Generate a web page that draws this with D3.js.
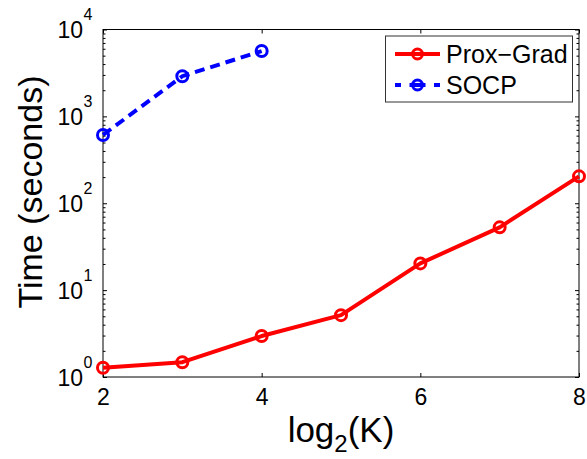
<!DOCTYPE html>
<html>
<head>
<meta charset="utf-8">
<script src="https://cdn.jsdelivr.net/npm/d3@7"></script>
<style>
  html, body { margin: 0; padding: 0; background: #fff; }
  svg { display: block; font-family: "Liberation Sans", Arial, Helvetica, sans-serif; }
</style>
</head>
<body>
<svg id="chart" width="587" height="459"></svg>
<script>
// ---- data ----
const xValues = [2, 3, 4, 5, 6, 7, 8];
const proxGrad = [1.28, 1.48, 2.96, 5.15, 20.3, 52.8, 204];
const socpX = [2, 3, 4];
const socp = [611, 2900, 5650];
const xTicks = [2, 4, 6, 8];
const yTickExps = [0, 1, 2, 3, 4];
const seriesNames = ["Prox\u2212Grad", "SOCP"];
const seriesColors = ["#ff0000", "#0000ff"];

// ---- layout ----
const svg = d3.select("#chart");
const L = 103, R = 579, T = 29.5, B = 377;

const x = d3.scaleLinear().domain([2, 8]).range([L, R]);
const y = d3.scaleLog().domain([1, 1e4]).range([B, T]);

const minorVals = [];
for (let e = 0; e < 4; e++) for (let m = 2; m <= 9; m++) minorVals.push(m * Math.pow(10, e));
const majorVals = yTickExps.map(e => Math.pow(10, e));

// axes box
svg.append("rect").attr("x", L).attr("y", T).attr("width", R - L).attr("height", B - T)
  .attr("fill", "none").attr("stroke", "#000").attr("stroke-width", 1);

// bottom axis with inward ticks
const gx = svg.append("g").attr("transform", `translate(0,${B})`)
  .call(d3.axisBottom(x).tickValues(xTicks).tickSize(-4).tickPadding(12).tickFormat(d3.format("d")));
gx.select(".domain").remove();
gx.selectAll("text").attr("font-size", 23).attr("fill", "#000").attr("font-family", "Liberation Sans, Arial, sans-serif")
  .attr("dy", "0.71em").attr("y", 12);
gx.selectAll("line").attr("stroke", "#000");
// top axis ticks
const gxt = svg.append("g").attr("transform", `translate(0,${T})`)
  .call(d3.axisTop(x).tickValues(xTicks).tickSize(-4).tickFormat(""));
gxt.select(".domain").remove();
gxt.selectAll("line").attr("stroke", "#000");

// left axis major
const gy = svg.append("g").attr("transform", `translate(${L},0)`)
  .call(d3.axisLeft(y).tickValues(majorVals).tickSize(-4).tickPadding(7).tickFormat(""));
gy.select(".domain").remove();
gy.selectAll("line").attr("stroke", "#000");
gy.selectAll(".tick text").each(function(d) {
  const t = d3.select(this);
  t.attr("x", -20).attr("dy", "0.36em").attr("font-size", 23).attr("fill", "#000")
   .attr("font-family", "Liberation Sans, Arial, sans-serif").attr("text-anchor", "end");
  t.text("10");
  d3.select(this.parentNode).append("text")
    .attr("x", -15).attr("y", -10).attr("font-size", 16).attr("fill", "#000")
    .attr("text-anchor", "middle")
    .attr("font-family", "Liberation Sans, Arial, sans-serif")
    .text(Math.round(Math.log10(d)));
});
// left minor
const gym = svg.append("g").attr("transform", `translate(${L},0)`)
  .call(d3.axisLeft(y).tickValues(minorVals).tickSize(-2.5).tickFormat(""));
gym.select(".domain").remove();
gym.selectAll("line").attr("stroke", "#000");
// right axis major + minor
const gyr = svg.append("g").attr("transform", `translate(${R},0)`)
  .call(d3.axisRight(y).tickValues(majorVals).tickSize(-4).tickFormat(""));
gyr.select(".domain").remove();
gyr.selectAll("line").attr("stroke", "#000");
const gyrm = svg.append("g").attr("transform", `translate(${R},0)`)
  .call(d3.axisRight(y).tickValues(minorVals).tickSize(-2.5).tickFormat(""));
gyrm.select(".domain").remove();
gyrm.selectAll("line").attr("stroke", "#000");

// ---- series ----
const line = d3.line().x(d => x(d[0])).y(d => y(d[1]));
const pgData = xValues.map((v, i) => [v, proxGrad[i]]);
const socpData = socpX.map((v, i) => [v, socp[i]]);

svg.append("path").datum(pgData).attr("d", line).attr("fill", "none")
  .attr("stroke", seriesColors[0]).attr("stroke-width", 4).attr("stroke-linejoin", "round");
svg.append("g").selectAll("circle").data(pgData).join("circle")
  .attr("cx", d => x(d[0])).attr("cy", d => y(d[1])).attr("r", 5.5)
  .attr("fill", "none").attr("stroke", seriesColors[0]).attr("stroke-width", 3);

svg.append("path").datum(socpData).attr("d", line).attr("fill", "none")
  .attr("stroke", seriesColors[1]).attr("stroke-width", 4).attr("stroke-dasharray", "10,6");
svg.append("g").selectAll("circle").data(socpData).join("circle")
  .attr("cx", d => x(d[0])).attr("cy", d => y(d[1])).attr("r", 5.5)
  .attr("fill", "none").attr("stroke", seriesColors[1]).attr("stroke-width", 3);

// ---- legend ----
const lg = svg.append("g");
lg.append("rect").attr("x", 385.5).attr("y", 36).attr("width", 187).attr("height", 66)
  .attr("fill", "#fff").attr("stroke", "#333").attr("stroke-width", 1);
const rowsY = [54, 85];
seriesNames.forEach((name, i) => {
  const yy = rowsY[i];
  if (i === 0) {
    lg.append("line").attr("x1", 395).attr("x2", 440).attr("y1", yy).attr("y2", yy)
      .attr("stroke", seriesColors[i]).attr("stroke-width", 4);
  } else {
    lg.append("line").attr("x1", 395).attr("x2", 440).attr("y1", yy).attr("y2", yy)
      .attr("stroke", seriesColors[i]).attr("stroke-width", 4).attr("stroke-dasharray", "6,8.5,16,8.5,6");
  }
  lg.append("circle").attr("cx", 417.5).attr("cy", yy).attr("r", 5)
    .attr("fill", "none").attr("stroke", seriesColors[i]).attr("stroke-width", 3);
  lg.append("text").attr("x", 446).attr("y", yy).attr("dy", "0.36em")
    .attr("font-size", 25).attr("fill", "#000").text(name);
});

// ---- axis labels ----
const xl = svg.append("text").attr("x", 341).attr("y", 442).attr("text-anchor", "middle")
  .attr("font-size", 35).attr("fill", "#000");
xl.append("tspan").text("log");
xl.append("tspan").attr("font-size", 24).attr("dy", 10).text("2");
xl.append("tspan").attr("dy", -10).text("(K)");

svg.append("text").attr("transform", "translate(42,192) rotate(-90)")
  .attr("text-anchor", "middle").attr("font-size", 34).attr("fill", "#000")
  .text("Time (seconds)");
</script>
</body>
</html>
